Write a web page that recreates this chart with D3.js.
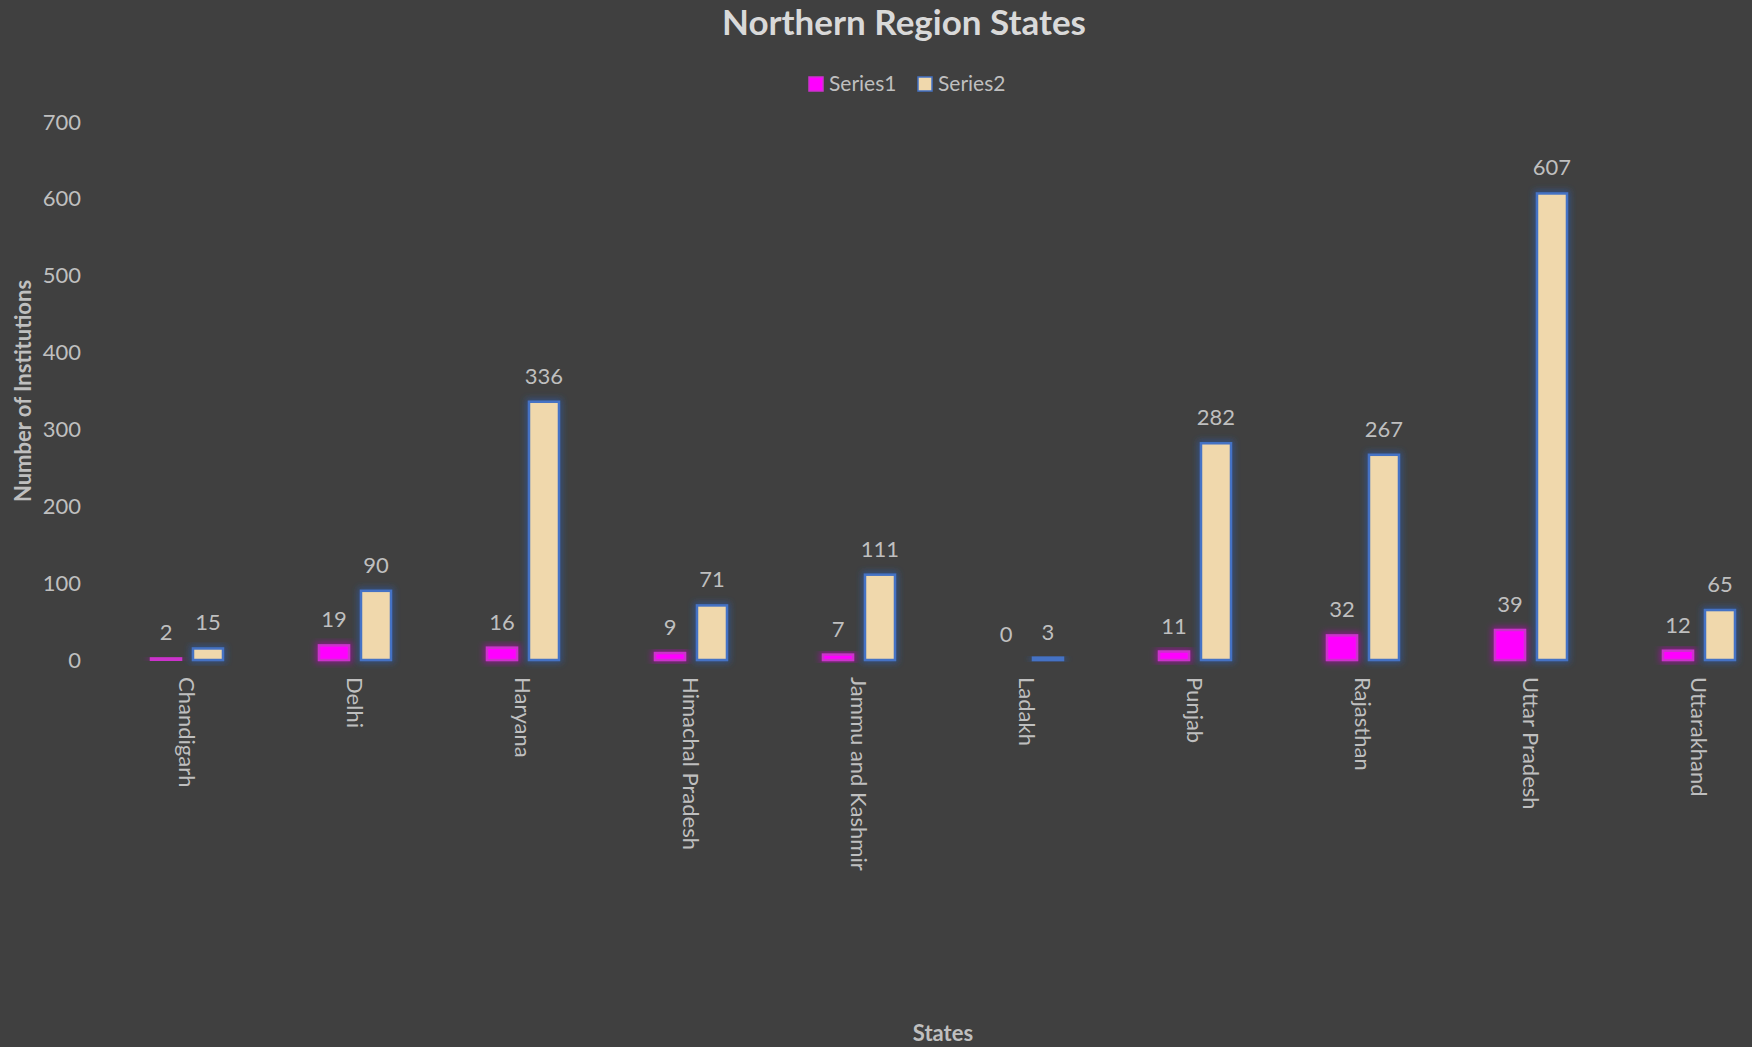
<!DOCTYPE html>
<html>
<head>
<meta charset="utf-8">
<script src="https://cdn.jsdelivr.net/npm/d3@7"></script>
<style>
  html, body { margin: 0; padding: 0; background: #404040; }
  svg { display: block; font-family: Lato, "Open Sans", sans-serif; }
</style>
</head>
<body>
<svg id="chart" width="1752" height="1047"></svg>
<script>
// chart data
const states  = ['Chandigarh', 'Delhi', 'Haryana', 'Himachal Pradesh', 'Jammu and Kashmir',
                 'Ladakh', 'Punjab', 'Rajasthan', 'Uttar Pradesh', 'Uttarakhand'];
const series1 = [2, 19, 16, 9, 7, 0, 11, 32, 39, 12];
const series2 = [15, 90, 336, 71, 111, 3, 282, 267, 607, 65];
const seriesNames = ['Series1', 'Series2'];
const yTicks  = [0, 100, 200, 300, 400, 500, 600, 700];

const W = 1752, H = 1047;
const margin = { top: 122, left: 103, bottom: 387 };
const band = 168;

const svg = d3.select('#chart');

// glow filters
const defs = svg.append('defs');
function glow(id, color, op) {
  const f = defs.append('filter').attr('id', id)
    .attr('x', '-50%').attr('y', '-50%').attr('width', '200%').attr('height', '200%');
  f.append('feMorphology').attr('in', 'SourceAlpha').attr('operator', 'dilate').attr('radius', 2).attr('result', 'd');
  f.append('feGaussianBlur').attr('in', 'd').attr('stdDeviation', 3).attr('result', 'b');
  f.append('feFlood').attr('flood-color', color).attr('flood-opacity', op);
  f.append('feComposite').attr('in2', 'b').attr('operator', 'in').attr('result', 'g');
  const m = f.append('feMerge');
  m.append('feMergeNode').attr('in', 'g');
  m.append('feMergeNode').attr('in', 'SourceGraphic');
}
glow('glow1', '#c000c0', 0.55);
glow('glow2', '#2f5597', 0.7);

const x0 = d3.scaleBand()
  .domain(states)
  .range([margin.left, margin.left + band * states.length]);

const x1 = d3.scaleBand()
  .domain(seriesNames)
  .range([0, x0.bandwidth()])
  .paddingInner(0.238)
  .paddingOuter(1.12);

const y = d3.scaleLinear()
  .domain([0, 700])
  .range([H - margin.bottom, margin.top]);

// title
svg.append('text')
  .attr('x', 904).attr('y', 35)
  .attr('text-anchor', 'middle')
  .attr('fill', '#d9d9d9')
  .attr('font-size', 35).attr('font-weight', 'bold')
  .text('Northern Region States');

// legend
const legend = svg.append('g');
const legendItems = [
  { name: seriesNames[0], fill: '#ff00ff', stroke: '#cc33cc', x: 809 },
  { name: seriesNames[1], fill: '#f0d8ac', stroke: '#4472c4', x: 918 }
];
legendItems.forEach(it => {
  legend.append('rect')
    .attr('x', it.x).attr('y', 77).attr('width', 14).attr('height', 14)
    .attr('fill', it.fill).attr('stroke', it.stroke).attr('stroke-width', 1.5);
  legend.append('text')
    .attr('x', it.x + 20).attr('y', 91)
    .attr('fill', '#bfbfbf').attr('font-size', 21)
    .text(it.name);
});

// y axis
const yAxis = svg.append('g')
  .attr('transform', `translate(${margin.left - 22},0)`)
  .call(d3.axisLeft(y).tickValues(yTicks).tickSize(0).tickPadding(0));
yAxis.select('.domain').remove();
yAxis.selectAll('text')
  .attr('fill', '#bfbfbf').attr('font-size', 22)
  .attr('font-family', 'Lato, sans-serif');

svg.append('text')
  .attr('transform', 'translate(31,391) rotate(-90)')
  .attr('text-anchor', 'middle')
  .attr('fill', '#bfbfbf')
  .attr('font-size', 22).attr('font-weight', 'bold')
  .text('Number of Institutions');

// x axis labels (rotated)
const xAxis = svg.append('g')
  .attr('transform', `translate(0,${H - margin.bottom + 17})`)
  .call(d3.axisBottom(x0).tickSize(0).tickPadding(0));
xAxis.select('.domain').remove();
xAxis.selectAll('text')
  .attr('fill', '#bfbfbf').attr('font-size', 22)
  .attr('font-family', 'Lato, sans-serif')
  .attr('text-anchor', 'start')
  .attr('dy', '0.35em')
  .attr('transform', 'rotate(90)');

svg.append('text')
  .attr('x', 943).attr('y', 1041)
  .attr('text-anchor', 'middle')
  .attr('fill', '#bfbfbf')
  .attr('font-size', 22).attr('font-weight', 'bold')
  .text('States');

// bars
const rows = states.map((s, i) => ({ state: s, v: [series1[i], series2[i]] }));
const styles = [
  { fill: '#ff00ff', stroke: '#cc33cc', filter: 'url(#glow1)' },
  { fill: '#f0d8ac', stroke: '#4472c4', filter: 'url(#glow2)' }
];

const groups = svg.append('g').selectAll('g')
  .data(rows).join('g')
  .attr('transform', d => `translate(${x0(d.state)},0)`);

groups.selectAll('rect')
  .data(d => d.v.map((v, k) => ({ key: seriesNames[k], k, v })))
  .join('rect')
  .attr('x', d => x1(d.key) + 1)
  .attr('width', x1.bandwidth() - 2)
  .attr('y', d => y(d.v))
  .attr('height', d => y(0) - y(d.v))
  .attr('fill', d => styles[d.k].fill)
  .attr('stroke', d => styles[d.k].stroke)
  .attr('stroke-width', 2.5)
  .attr('filter', d => styles[d.k].filter);

// data labels
groups.selectAll('text.lbl')
  .data(d => d.v.map((v, k) => ({ key: seriesNames[k], k, v })))
  .join('text')
  .attr('class', 'lbl')
  .attr('x', d => x1(d.key) + x1.bandwidth() / 2)
  .attr('y', d => y(d.v) - 18)
  .attr('text-anchor', 'middle')
  .attr('fill', '#bfbfbf').attr('font-size', 22)
  .text(d => d.v);
</script>
</body>
</html>
